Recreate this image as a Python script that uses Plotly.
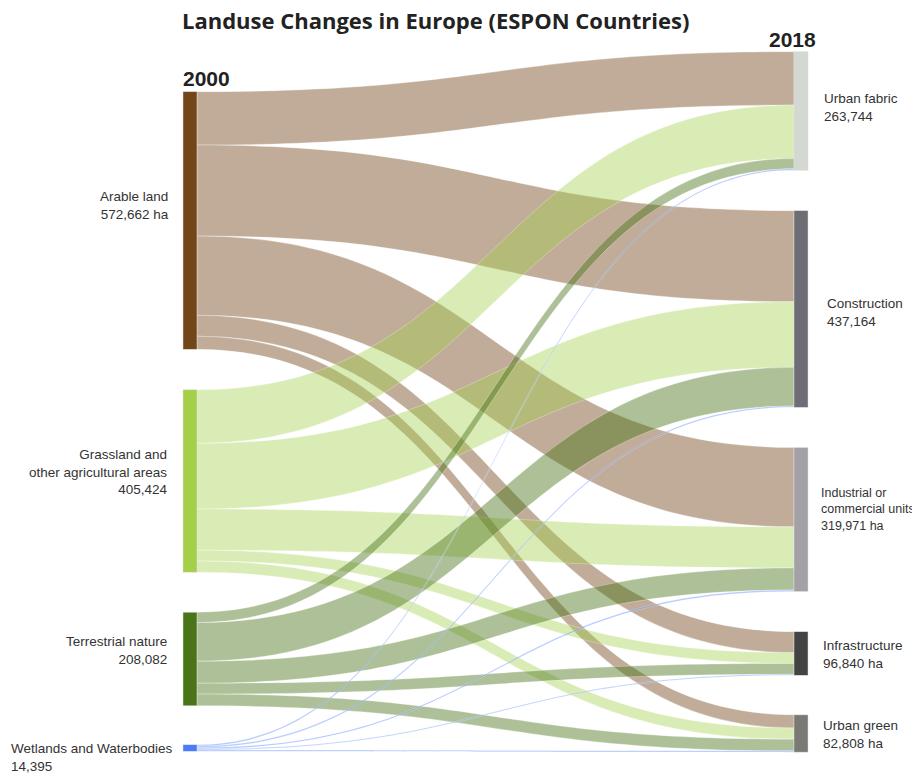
import plotly.graph_objects as go

# page is rendered with an 8px body margin; figure fills the rest of the 920x774 window
OFF = 8
W, H = 920 - OFF, 774 - OFF

# ---- data ----
sources = ["Arable land", "Grassland and other agricultural areas", "Terrestrial nature", "Wetlands and Waterbodies"]
targets = ["Urban fabric", "Construction", "Industrial or commercial units", "Infrastructure", "Urban green"]

arable_flows = [118500, 202300, 176200, 46562, 29100]
grassland_flows = [119000, 146000, 91500, 24000, 24924]
terrestrial_flows = [23000, 86000, 49000, 24082, 26000]
wetland_flows = [3200, 3000, 3200, 2200, 2795]

source_labels = ["Arable land<br>572,662 ha", "Grassland and<br>other agricultural areas<br>405,424",
                 "Terrestrial nature<br>208,082", "Wetlands and Waterbodies<br>14,395"]
target_labels = ["Urban fabric<br>263,744", "Construction<br>437,164",
                 "Industrial or<br>commercial units<br>319,971 ha", "Infrastructure<br>96,840 ha",
                 "Urban green<br>82,808 ha"]

source_colors = ["#73461A", "#A3D048", "#4A7418", "#4A7CFA"]
link_colors = ["rgba(115,70,26,0.45)", "rgba(163,208,72,0.40)", "rgba(74,116,24,0.45)", "rgba(74,124,250,0.45)"]
target_colors = ["#D3D8D0", "#6E6C74", "#A3A1A6", "#434343", "#787A73"]


def px(x):
    return (x - OFF) / W


def py(y):
    return 1 - (y - OFF) / H


# ---- layout geometry (window pixels) ----
dom_left, dom_right, dom_top, dom_bottom = 183, 808, 52, 752
thick = 14
src_centers_px = [220.5, 481, 659, 748]
tgt_centers_px = [111, 309, 519.5, 653.5, 733.5]

dw = dom_right - dom_left
dh = dom_bottom - dom_top

flows = [arable_flows, grassland_flows, terrestrial_flows, wetland_flows]
src_idx, tgt_idx, vals, lcols = [], [], [], []
for i, row in enumerate(flows):
    for j, v in enumerate(row):
        src_idx.append(i)
        tgt_idx.append(len(sources) + j)
        vals.append(v)
        lcols.append(link_colors[i])

node_x = [(thick / 2) / dw] * len(sources) + [(dw - thick / 2) / dw] * len(targets)
node_y = [(c - dom_top) / dh for c in src_centers_px] + [(c - dom_top) / dh for c in tgt_centers_px]

fig = go.Figure(go.Sankey(
    arrangement="fixed",
    domain=dict(x=[px(dom_left), px(dom_right)], y=[py(dom_bottom), py(dom_top)]),
    node=dict(
        label=[""] * (len(sources) + len(targets)),
        customdata=sources + targets,
        hovertemplate="%{customdata}: %{value}<extra></extra>",
        color=source_colors + target_colors,
        thickness=thick,
        pad=40,
        x=node_x,
        y=node_y,
        line=dict(color="#dddddd", width=0.5),
    ),
    link=dict(
        source=src_idx,
        target=tgt_idx,
        value=vals,
        color=lcols,
        line=dict(color="rgba(255,255,255,0.6)", width=0.5),
    ),
))

label_font = dict(family="Liberation Sans, Arial, sans-serif", size=13.5, color="#333333")
annotations = []
left_label_pos = [(171, 205), (170, 472), (169, 650)]
for txt, (lx, ly) in zip(source_labels[:3], left_label_pos):
    annotations.append(dict(x=px(lx), y=py(ly), xref="paper", yref="paper", text=txt,
                            showarrow=False, xanchor="right", yanchor="middle", align="right", font=label_font))
annotations.append(dict(x=px(9), y=py(757), xref="paper", yref="paper", text=source_labels[3],
                        showarrow=False, xanchor="left", yanchor="middle", align="left", font=label_font))
right_label_pos = [(822, 108), (825, 312), (819, 509), (821, 654), (821, 734)]
right_label_sizes = [13.5, 13.5, 12.5, 13.5, 13.5]
for txt, (lx, ly), fs in zip(target_labels, right_label_pos, right_label_sizes):
    annotations.append(dict(x=px(lx), y=py(ly), xref="paper", yref="paper", text=txt,
                            showarrow=False, xanchor="left", yanchor="middle", align="left",
                            font=dict(label_font, size=fs)))

year_font = dict(family="Liberation Sans, Arial, sans-serif", size=21, color="#222222", weight="bold")
annotations.append(dict(x=px(181), y=py(79), xref="paper", yref="paper", text="2000", showarrow=False,
                        xanchor="left", yanchor="middle", font=year_font))
annotations.append(dict(x=px(767), y=py(40), xref="paper", yref="paper", text="2018", showarrow=False,
                        xanchor="left", yanchor="middle", font=year_font))

fig.update_layout(
    width=W, height=H,
    margin=dict(l=0, r=0, t=0, b=0),
    paper_bgcolor="white",
    title=dict(text="Landuse Changes in Europe (ESPON Countries)", x=px(182), xanchor="left", xref="paper",
               y=py(21), yanchor="middle", yref="paper",
               font=dict(family="Open Sans, sans-serif", size=22, color="#222222", weight="bold")),
    annotations=annotations,
)

fig.write_html(
    "out.html",
    post_script="document.documentElement.style.overflow='hidden';document.body.style.overflow='hidden';",
)
